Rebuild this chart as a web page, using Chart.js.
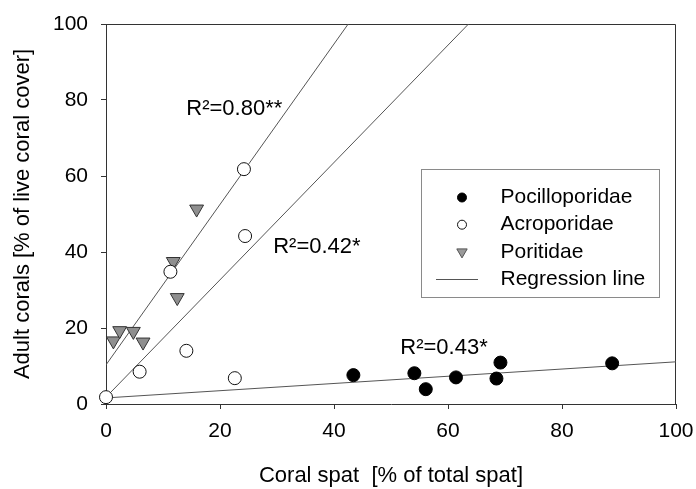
<!DOCTYPE html>
<html>
<head>
<meta charset="utf-8">
<script src="https://cdn.jsdelivr.net/npm/chart.js@4/dist/chart.umd.min.js"></script>
<style>
html,body{margin:0;padding:0;background:#fff;}
#wrap{width:696px;height:489px;position:relative;}
</style>
</head>
<body>
<div id="wrap"><canvas id="c" width="696" height="489"></canvas></div>
<script>
// ---- data ----
const xTicks = [0, 20, 40, 60, 80, 100];
const yTicks = [0, 20, 40, 60, 80, 100];
const seriesNames = ['Pocilloporidae', 'Acroporidae', 'Poritidae', 'Regression line'];

const pocX = [43.4, 54.1, 56.1, 61.4, 68.5, 69.2, 88.8];
const pocY = [7.6, 8.1, 3.9, 7.0, 6.7, 10.9, 10.7];

const acrX = [0.0, 5.9, 11.3, 14.1, 22.6, 24.2, 24.4];
const acrY = [1.8, 8.5, 34.8, 14.0, 6.8, 61.8, 44.2];

const porX = [1.3, 2.4, 4.8, 6.5, 11.8, 12.5, 15.9];
const porY = [16.6, 19.3, 19.1, 16.3, 37.5, 28.0, 51.3];

// regression lines (intercept, slope), drawn from x = 0 to x = 100
const regIntercepts = [10.3, 1.8, 1.6];
const regSlopes = [2.111, 1.544, 0.095];
const regRange = [0, 100];

const r2Labels = ['R²=0.80**', 'R²=0.42*', 'R²=0.43*'];
const r2AtX = [22.5, 37.0, 59.3];
const r2AtY = [77.6, 41.4, 14.7];

// ---- build ----
const FONT = "'Liberation Sans', Arial, Helvetica, sans-serif";
const pts = (xs, ys) => xs.map((x, i) => ({x: x, y: ys[i]}));

const regDatasets = regIntercepts.map((b, i) => ({
  type: 'line',
  label: 'reg' + i,
  data: regRange.map(x => ({x: x, y: b + regSlopes[i] * x})),
  borderColor: '#555',
  borderWidth: 1,
  pointRadius: 0,
  fill: false,
  tension: 0,
  order: 2
}));

const pointDatasets = [
  {label: seriesNames[0], data: pts(pocX, pocY), pointStyle: 'circle', pointRadius: 6.5,
   backgroundColor: '#000', borderColor: '#000', borderWidth: 1, clip: false, order: 1},
  {label: seriesNames[1], data: pts(acrX, acrY), pointStyle: 'circle', pointRadius: 6.5,
   backgroundColor: '#fff', borderColor: '#111', borderWidth: 1, clip: false, order: 1},
  {label: seriesNames[2], data: pts(porX, porY), pointStyle: 'triangle', pointRadius: 8, rotation: 180,
   backgroundColor: '#8f8f8f', borderColor: '#333', borderWidth: 1, clip: false, order: 1}
];

const framePlugin = {
  id: 'frame',
  beforeDatasetsDraw(chart) {
    const {ctx, chartArea: a} = chart;
    ctx.save();
    ctx.strokeStyle = '#333';
    ctx.lineWidth = 1;
    ctx.beginPath();
    ctx.moveTo(Math.round(a.left) + 0.5, Math.round(a.top) + 0.5);
    ctx.lineTo(Math.round(a.right) - 0.5, Math.round(a.top) + 0.5);
    ctx.lineTo(Math.round(a.right) - 0.5, Math.round(a.bottom) + 0.5);
    ctx.stroke();
    ctx.restore();
  }
};

const r2Plugin = {
  id: 'r2',
  afterDatasetsDraw(chart) {
    const {ctx, scales: {x, y}} = chart;
    ctx.save();
    ctx.font = '22px ' + FONT;
    ctx.fillStyle = '#000';
    ctx.textAlign = 'center';
    ctx.textBaseline = 'middle';
    r2Labels.forEach((t, i) => ctx.fillText(t, x.getPixelForValue(r2AtX[i]), y.getPixelForValue(r2AtY[i])));
    ctx.restore();
  }
};

const legendPlugin = {
  id: 'boxLegend',
  afterDatasetsDraw(chart, args, opts) {
    const ctx = chart.ctx;
    const {left, top, width, height, rowStart, rowGap, markerX, textX} = opts;
    ctx.save();
    ctx.fillStyle = '#fff';
    ctx.fillRect(left, top, width, height);
    ctx.strokeStyle = '#8a8a8a';
    ctx.lineWidth = 1;
    ctx.strokeRect(left + 0.5, top + 0.5, width, height);
    ctx.font = '21px ' + FONT;
    ctx.textAlign = 'left';
    ctx.textBaseline = 'middle';
    seriesNames.forEach((name, i) => {
      const yy = rowStart + i * rowGap;
      const ds = chart.data.datasets.find(d => d.label === name);
      ctx.lineWidth = 1;
      if (i === 3) {
        ctx.strokeStyle = '#555';
        ctx.beginPath();
        ctx.moveTo(markerX - 26, Math.round(yy) + 0.5);
        ctx.lineTo(markerX + 16, Math.round(yy) + 0.5);
        ctx.stroke();
      } else if (ds.pointStyle === 'circle') {
        ctx.fillStyle = ds.backgroundColor;
        ctx.strokeStyle = ds.borderColor;
        ctx.beginPath();
        ctx.arc(markerX, yy, 4.5, 0, Math.PI * 2);
        ctx.fill();
        ctx.stroke();
      } else {
        const r = 6;
        ctx.fillStyle = '#9a9a9a';
        ctx.strokeStyle = '#555';
        ctx.beginPath();
        for (let k = 0; k < 3; k++) {
          const ang = Math.PI + k * 2 * Math.PI / 3;
          const px = markerX + Math.sin(ang) * r, py = yy - Math.cos(ang) * r;
          if (k === 0) ctx.moveTo(px, py); else ctx.lineTo(px, py);
        }
        ctx.closePath();
        ctx.fill();
        ctx.stroke();
      }
      ctx.fillStyle = '#000';
      ctx.fillText(name, textX, yy);
    });
    ctx.restore();
  }
};

new Chart(document.getElementById('c'), {
  type: 'scatter',
  data: {datasets: [...pointDatasets, ...regDatasets]},
  options: {
    responsive: false,
    animation: false,
    devicePixelRatio: 1,
    layout: {padding: {left: 0, right: 20, top: 24, bottom: 0}},
    plugins: {
      legend: {display: false},
      tooltip: {enabled: false},
      boxLegend: {left: 421, top: 169, width: 238, height: 128, rowStart: 197.5, rowGap: 27.2, markerX: 462, textX: 500.5}
    },
    scales: {
      x: {
        type: 'linear', position: 'bottom', min: 0, max: 100,
        afterBuildTicks: s => { s.ticks = xTicks.map(v => ({value: v})); },
        afterFit: s => { s.height = 85; s.paddingLeft = 0; s.paddingRight = 0; },
        ticks: {color: '#000', font: {family: FONT, size: 21}, padding: 10, maxRotation: 0, autoSkip: false},
        grid: {drawOnChartArea: false, drawTicks: true, tickLength: 5, color: '#333', lineWidth: 1},
        border: {display: true, color: '#333', width: 1},
        title: {display: true, text: 'Coral spat  [% of total spat]', color: '#000',
                font: {family: FONT, size: 22}, padding: {top: 0, bottom: 0}}
      },
      y: {
        type: 'linear', position: 'left', min: 0, max: 100,
        afterBuildTicks: s => { s.ticks = yTicks.map(v => ({value: v})); },
        afterFit: s => { s.width = 106; s.paddingTop = 0; s.paddingBottom = 0; },
        ticks: {color: '#000', font: {family: FONT, size: 21}, padding: 13, autoSkip: false},
        grid: {drawOnChartArea: false, drawTicks: true, tickLength: 5, color: '#333', lineWidth: 1},
        border: {display: true, color: '#333', width: 1},
        title: {display: true, text: 'Adult corals [% of live coral cover]', color: '#000',
                font: {family: FONT, size: 22}, padding: {top: 10, bottom: 0}}
      }
    }
  },
  plugins: [framePlugin, r2Plugin, legendPlugin]
});
</script>
</body>
</html>
